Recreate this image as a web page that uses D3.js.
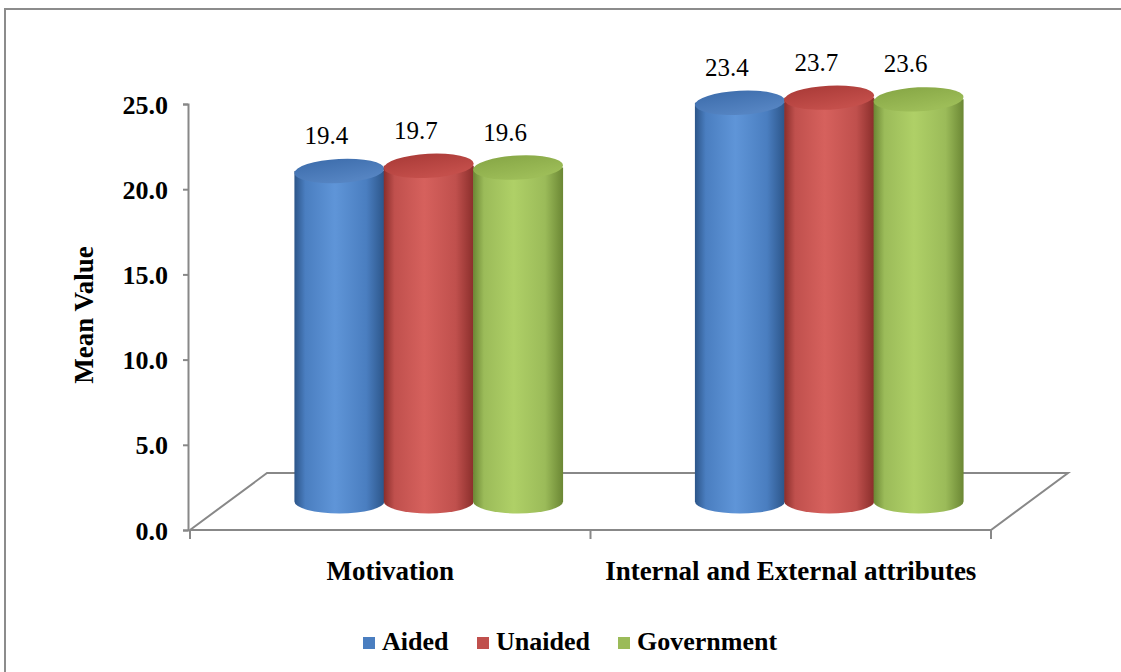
<!DOCTYPE html>
<html>
<head>
<meta charset="utf-8">
<style>
  body {
    margin: 0;
    background: #fff;
  }
  svg text {
    font-family: "Liberation Serif", "Times New Roman", serif;
  }
</style>
</head>
<body>
<div id="chart-area"></div>
<script src="https://d3js.org/d3.v7.min.js"></script>
<script>
  const categories = ["Motivation", "Internal and External attributes"];
  const seriesNames = ["Aided", "Unaided", "Government"];
  const aided = [19.4, 23.4];
  const unaided = [19.7, 23.7];
  const government = [19.6, 23.6];
  const yTicks = [0, 5, 10, 15, 20, 25];

  const seriesValues = [aided, unaided, government];

  const palette = {
    Aided: { dark: "#2c5589", mid: "#4a7ec0", light: "#5f95d8", top: "#3c6cab", topLight: "#5584c2" },
    Unaided: { dark: "#8a2e2b", mid: "#c0504d", light: "#d6615d", top: "#a93a37", topLight: "#c44f4b" },
    Government: { dark: "#6b8734", mid: "#9bbb59", light: "#afd067", top: "#86a645", topLight: "#9dbd58" }
  };

  const W = 1121, H = 672;
  const serif = "'Liberation Serif', 'Times New Roman', serif";
  const svg = d3.select("#chart-area")
    .append("svg")
    .attr("width", W)
    .attr("height", H)
    .style("font-family", serif);

  // outer frame
  svg.append("rect")
    .attr("x", 5).attr("y", 9)
    .attr("width", W + 20).attr("height", H + 20)
    .attr("fill", "none")
    .attr("stroke", "#8c8c8c")
    .attr("stroke-width", 2);

  const y = d3.scaleLinear().domain([0, 25]).range([530, 104]);
  const x0 = d3.scaleBand().domain(categories).range([190, 991]);
  const x1 = d3.scaleBand().domain(seriesNames).range([-134, 134]);

  // depth of the floor and position of the bars inside it
  const depth = { dx: 77, dy: -57 };
  const mid = { dx: depth.dx / 2, dy: depth.dy / 2 };
  const axisColor = "#888";

  const defs = svg.append("defs");
  seriesNames.forEach((s) => {
    const c = palette[s];
    const g = defs.append("linearGradient")
      .attr("id", "body-" + s)
      .attr("x1", "0").attr("x2", "1").attr("y1", "0").attr("y2", "0");
    [[0, c.dark], [0.12, c.mid], [0.45, c.light], [0.8, c.mid], [1, c.dark]].forEach((st) => {
      g.append("stop").attr("offset", st[0]).attr("stop-color", st[1]);
    });
    const t = defs.append("linearGradient")
      .attr("id", "top-" + s)
      .attr("x1", "0").attr("x2", "0.4").attr("y1", "0").attr("y2", "1");
    t.append("stop").attr("offset", 0).attr("stop-color", c.top);
    t.append("stop").attr("offset", 1).attr("stop-color", c.topLight);
  });

  // floor
  const fl = 190, fr = 991, fy = y(0);
  svg.append("path")
    .attr("d", "M" + fl + "," + fy + " L" + (fl + depth.dx) + "," + (fy + depth.dy) +
      " L" + (fr + depth.dx) + "," + (fy + depth.dy) + " L" + fr + "," + fy + " Z")
    .attr("fill", "none")
    .attr("stroke", axisColor)
    .attr("stroke-width", 2);

  // y axis
  const yAxis = svg.append("g")
    .attr("transform", "translate(188,0)")
    .call(d3.axisLeft(y).tickValues(yTicks).tickSize(5).tickFormat(d3.format(".1f")));
  yAxis.select(".domain").attr("stroke", axisColor).attr("stroke-width", 2);
  yAxis.selectAll(".tick line").attr("stroke", axisColor).attr("stroke-width", 2);
  yAxis.selectAll(".tick text")
    .attr("x", -20)
    .attr("dy", "0.35em")
    .style("font-family", serif)
    .style("font-size", "26px")
    .style("font-weight", "bold")
    .attr("fill", "#000");

  // x axis ticks on the front edge
  const xEdges = [fl].concat(categories.map((c) => x0(c) + x0.bandwidth()));
  svg.selectAll(".xtick")
    .data(xEdges)
    .enter().append("line")
    .attr("x1", (d) => d).attr("x2", (d) => d)
    .attr("y1", fy).attr("y2", fy + 9)
    .attr("stroke", axisColor)
    .attr("stroke-width", 2);

  svg.selectAll(".cat-label")
    .data(categories)
    .enter().append("text")
    .attr("x", (d) => x0(d) + x0.bandwidth() / 2)
    .attr("y", 580)
    .attr("text-anchor", "middle")
    .style("font-size", "27px")
    .style("font-weight", "bold")
    .text((d) => d);

  svg.append("text")
    .attr("transform", "translate(93,315) rotate(-90)")
    .attr("text-anchor", "middle")
    .style("font-size", "27px")
    .style("font-weight", "bold")
    .text("Mean Value");

  // cylinders
  const rx = 45, ry = 12;
  const bars = [];
  categories.forEach((cat, ci) => {
    seriesNames.forEach((s, si) => {
      bars.push({
        series: s,
        value: seriesValues[si][ci],
        cx: x0(cat) + x0.bandwidth() / 2 + mid.dx + x1(s) + x1.bandwidth() / 2,
        yb: y(0) + mid.dy,
        yt: y(seriesValues[si][ci]) + mid.dy
      });
    });
  });

  const cyl = svg.selectAll(".cyl")
    .data(bars)
    .enter().append("g")
    .attr("class", "cyl");

  cyl.append("path")
    .attr("d", (d) => "M" + (d.cx - rx) + "," + d.yt +
      " L" + (d.cx - rx) + "," + d.yb +
      " A" + rx + "," + ry + " 0 0 0 " + (d.cx + rx) + "," + d.yb +
      " L" + (d.cx + rx) + "," + d.yt + " Z")
    .attr("fill", (d) => "url(#body-" + d.series + ")");

  cyl.append("ellipse")
    .attr("cx", (d) => d.cx)
    .attr("cy", (d) => d.yt)
    .attr("rx", rx)
    .attr("ry", ry)
    .attr("transform", (d) => "rotate(-3," + d.cx + "," + d.yt + ")")
    .attr("fill", (d) => "url(#top-" + d.series + ")");

  svg.selectAll(".val")
    .data(bars)
    .enter().append("text")
    .attr("x", (d) => d.cx - 13)
    .attr("y", (d) => d.yt - 27)
    .attr("text-anchor", "middle")
    .style("font-size", "25px")
    .text((d) => d3.format(".1f")(d.value));

  // legend
  const legendX = [363, 477, 618];
  const legend = svg.selectAll(".legend")
    .data(seriesNames)
    .enter().append("g")
    .attr("transform", (d, i) => "translate(" + legendX[i] + ",637)");
  legend.append("rect")
    .attr("width", 12).attr("height", 12)
    .attr("fill", (d) => palette[d].mid);
  legend.append("text")
    .attr("x", 19)
    .attr("y", 13)
    .style("font-size", "26px")
    .style("font-weight", "bold")
    .text((d) => d);
</script>
</body>
</html>
